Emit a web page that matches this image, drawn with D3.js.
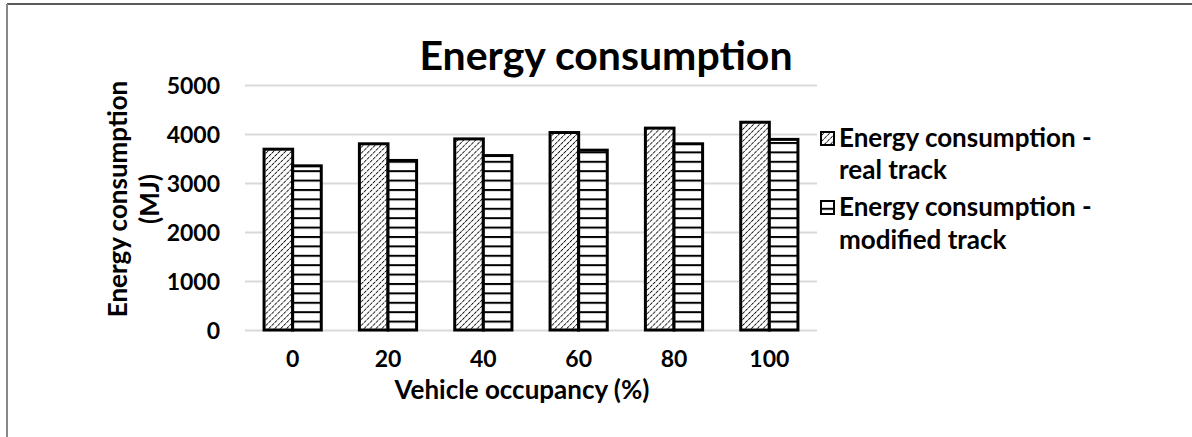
<!DOCTYPE html>
<html>
<head>
<meta charset="utf-8">
<script src="https://cdn.jsdelivr.net/npm/d3@7"></script>
<style>
  html, body { margin: 0; padding: 0; background: #fff; }
  svg { display: block; }
  text { font-family: Lato, "Open Sans", sans-serif; font-weight: 700; fill: #000; }
</style>
</head>
<body>
<svg id="chart" width="1192" height="437"></svg>
<script>
const categories = ["0", "20", "40", "60", "80", "100"];
const seriesNames = ["Energy consumption - real track", "Energy consumption - modified track"];
const realTrack = [3690, 3800, 3900, 4030, 4120, 4240];
const modifiedTrack = [3350, 3460, 3560, 3670, 3800, 3890];
const yTicks = [0, 1000, 2000, 3000, 4000, 5000];
const chartTitle = "Energy consumption";
const xTitle = "Vehicle occupancy (%)";
const yTitleLines = ["Energy consumption", "(MJ)"];
const legendLines = [["Energy consumption -", "real track"], ["Energy consumption -", "modified track"]];

const svg = d3.select("#chart");
const W = 1192, H = 437;

// frame
svg.append("line").attr("x1", 7).attr("x2", W).attr("y1", 4).attr("y2", 4)
  .attr("stroke", "#222").attr("stroke-width", 1.5);
svg.append("line").attr("x1", 7).attr("x2", 7).attr("y1", 4).attr("y2", H)
  .attr("stroke", "#888").attr("stroke-width", 2);

// patterns
const defs = svg.append("defs");
const diag = defs.append("pattern").attr("id", "diag")
  .attr("patternUnits", "userSpaceOnUse").attr("width", 4.2).attr("height", 4.2)
  .attr("patternTransform", "rotate(45)");
diag.append("rect").attr("width", 4.2).attr("height", 4.2).attr("fill", "#fff");
diag.append("line").attr("x1", 0).attr("y1", 0).attr("x2", 0).attr("y2", 4.2)
  .attr("stroke", "#111").attr("stroke-width", 1.8).attr("stroke-dasharray", "2.4,0.7");
const horiz = defs.append("pattern").attr("id", "horiz")
  .attr("patternUnits", "userSpaceOnUse").attr("width", 10).attr("height", 9.4)
  .attr("y", 1);
horiz.append("rect").attr("width", 10).attr("height", 9.4).attr("fill", "#fff");
horiz.append("line").attr("x1", 0).attr("x2", 10).attr("y1", 1).attr("y2", 1)
  .attr("stroke", "#000").attr("stroke-width", 2);

const fills = ["url(#diag)", "url(#horiz)"];

// scales
const x0 = d3.scaleBand().domain(categories).range([245, 817]).paddingInner(0.4).paddingOuter(0.2);
const x1 = d3.scaleBand().domain([0, 1]).range([0, x0.bandwidth()]);
const y = d3.scaleLinear().domain([0, 5000]).range([330, 85]);

// gridlines
const yAxis = d3.axisLeft(y).tickValues(yTicks).tickSize(-(817 - 245)).tickFormat(d3.format("d")).tickPadding(25);
const gy = svg.append("g").attr("transform", "translate(245,0)").call(yAxis);
gy.select(".domain").remove();
gy.selectAll(".tick line").attr("stroke", "#d9d9d9").attr("stroke-width", 2);
gy.selectAll(".tick text").attr("font-size", 23).attr("font-family", "Lato").attr("font-weight", 700).attr("fill", "#000")
  .attr("dy", "0.36em");

// bars
const data = categories.map((c, i) => ({ c, vals: [realTrack[i], modifiedTrack[i]] }));
const groups = svg.append("g").selectAll("g").data(data).join("g")
  .attr("transform", d => `translate(${x0(d.c)},0)`);
groups.selectAll("rect").data(d => d.vals.map((v, k) => ({ v, k }))).join("rect")
  .attr("x", d => x1(d.k))
  .attr("y", d => y(d.v))
  .attr("width", x1.bandwidth())
  .attr("height", d => y(0) - y(d.v))
  .attr("fill", d => fills[d.k])
  .attr("stroke", "#000").attr("stroke-width", 3);

// x axis labels
const xAxis = d3.axisBottom(x0).tickSize(0).tickPadding(0);
const gx = svg.append("g").attr("transform", "translate(0,367)").call(xAxis);
gx.select(".domain").remove();
gx.selectAll(".tick text").attr("font-size", 23).attr("font-family", "Lato").attr("font-weight", 700).attr("fill", "#000")
  .attr("dy", 0);

// titles
svg.append("text").attr("x", 606).attr("y", 70).attr("text-anchor", "middle")
  .attr("font-size", 41).text(chartTitle);
svg.append("text").attr("x", 522).attr("y", 399).attr("text-anchor", "middle")
  .attr("font-size", 26).text(xTitle);
const yt = svg.append("text").attr("transform", "translate(127,199) rotate(-90)").attr("text-anchor", "middle")
  .attr("font-size", 26);
yt.append("tspan").attr("x", 0).attr("y", 0).text(yTitleLines[0]);
yt.append("tspan").attr("x", 0).attr("y", 32).text(yTitleLines[1]);

// legend
const legendBaselines = [[147, 179], [216, 249]];
legendLines.forEach((lines, k) => {
  const b = legendBaselines[k];
  svg.append("rect").attr("x", 821).attr("y", b[0] - 15).attr("width", 13).attr("height", 13)
    .attr("fill", fills[k]).attr("stroke", "#000").attr("stroke-width", 2);
  lines.forEach((t, j) => {
    svg.append("text").attr("x", 839).attr("y", b[j]).attr("font-size", 26).text(t);
  });
});
</script>
</body>
</html>
